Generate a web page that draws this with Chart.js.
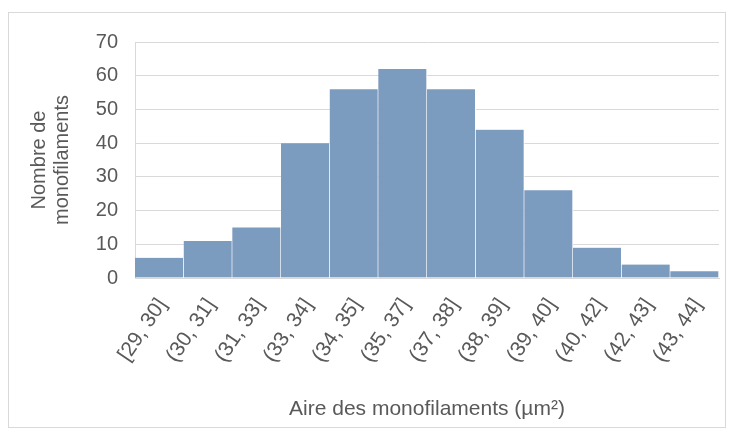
<!DOCTYPE html>
<html>
<head>
<meta charset="utf-8">
<script src="https://cdn.jsdelivr.net/npm/chart.js@4"></script>
<style>
    html, body { margin: 0; padding: 0; background: #fff; }
    #box {
        position: absolute; left: 8px; top: 12px;
        width: 718px; height: 416px;
        box-sizing: border-box; border: 1px solid #d9d9d9;
    }
    #chart { display: block; }
</style>
</head>
<body>
<div id="box"><canvas id="chart" width="716" height="414"></canvas></div>
<script>
// Histogram data
const bins = ['[29, 30]', '(30, 31]', '(31, 33]', '(33, 34]', '(34, 35]', '(35, 37]',
    '(37, 38]', '(38, 39]', '(39, 40]', '(40, 42]', '(42, 43]', '(43, 44]'];
const counts = [6, 11, 15, 40, 56, 62, 56, 44, 26, 9, 4, 2];
const yTicks = [0, 10, 20, 30, 40, 50, 60, 70];

const grey = '#595959';
const font = 'Liberation Sans, Arial, sans-serif';

const config = {
    type: 'bar',
    data: {
        labels: bins,
        datasets: [
            {
                data: counts,
                backgroundColor: '#7b9bbf',
                borderColor: '#ffffff',
                borderWidth: { right: 1, left: 0, top: 0, bottom: 0 },
                borderSkipped: false,
                barPercentage: 1,
                categoryPercentage: 1,
            },
        ],
    },
    options: {
        responsive: false,
        animation: false,
        layout: { padding: { top: 26, right: 6, left: 0, bottom: 0 } },
        plugins: {
            legend: { display: false },
            tooltip: { enabled: false },
        },
        scales: {
            x: {
                grid: { display: false, drawTicks: false },
                border: { display: true, color: '#d9d9d9' },
                ticks: {
                    color: grey,
                    font: { family: font, size: 21 },
                    minRotation: 56,
                    maxRotation: 56,
                    padding: 16,
                    labelOffset: 3,
                    autoSkip: false,
                },
                title: {
                    display: true,
                    text: 'Aire des monofilaments (µm²)',
                    color: grey,
                    font: { family: font, size: 21 },
                    padding: { top: 0, bottom: 5 },
                },
                afterFit: (scale) => {
                    scale.height = 149;
                    scale.paddingLeft = 0;
                    scale.paddingRight = 0;
                },
            },
            y: {
                min: 0,
                max: 70,
                grid: { color: '#d9d9d9', drawTicks: false },
                border: { display: true, color: '#d9d9d9' },
                afterBuildTicks: (scale) => {
                    scale.ticks = yTicks.map((v) => ({ value: v }));
                },
                ticks: {
                    color: grey,
                    font: { family: font, size: 20 },
                    padding: 17,
                },
                title: {
                    display: true,
                    text: ['Nombre de', 'monofilaments'],
                    color: grey,
                    font: { family: font, size: 20, lineHeight: 1.15 },
                    padding: { top: 19, bottom: 0 },
                },
                afterFit: (scale) => { scale.width = 126; },
            },
        },
    },
};

new Chart(document.getElementById('chart').getContext('2d'), config);
</script>
</body>
</html>
